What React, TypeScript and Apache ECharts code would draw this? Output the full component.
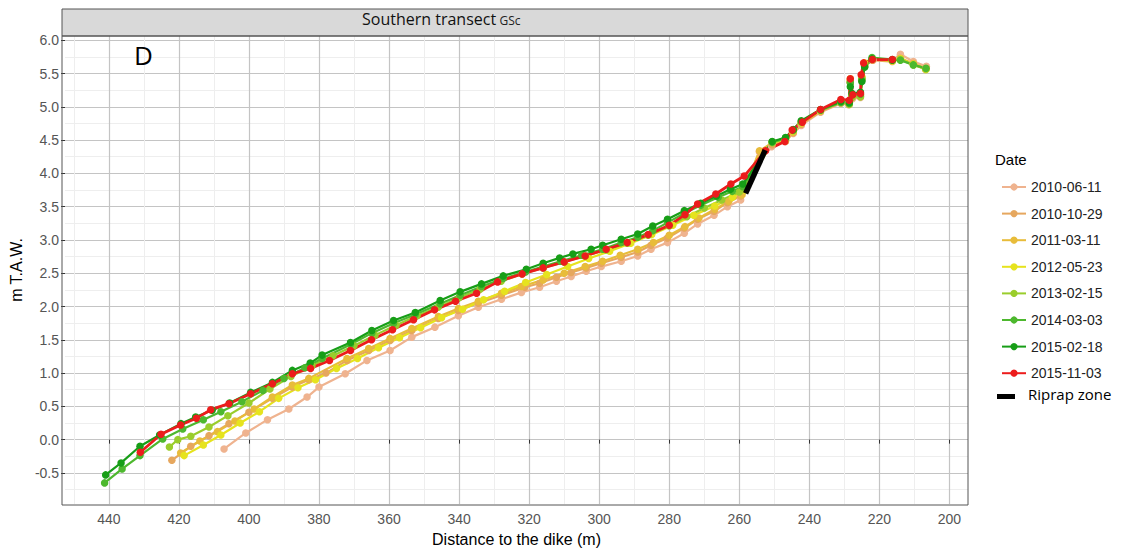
import React, { useEffect, useRef } from "react";
import * as echarts from "echarts";

// Survey dates and their colours
const dates = [
  "2010-06-11",
  "2010-10-29",
  "2011-03-11",
  "2012-05-23",
  "2013-02-15",
  "2014-03-03",
  "2015-02-18",
  "2015-11-03",
];
const colors = [
  "#EFB38F",
  "#E6A75E",
  "#E8BC3A",
  "#E6E31E",
  "#9ACD2C",
  "#4DB82E",
  "#179E17",
  "#EC1C1C",
];

// Axis ticks
const xTicks = [440, 420, 400, 380, 360, 340, 320, 300, 280, 260, 240, 220, 200];
const yTicks = [-0.5, 0, 0.5, 1, 1.5, 2, 2.5, 3, 3.5, 4, 4.5, 5, 5.5, 6];

// Profiles: [distance to the dike (m), elevation (m T.A.W.)]
const p20100611 = [
  [407.1, -0.14], [400.9, 0.1], [394.7, 0.3], [388.6, 0.46], [383.4, 0.64], [380.0, 0.79],
  [372.5, 0.99], [366.3, 1.19], [359.7, 1.34], [353.5, 1.54], [346.9, 1.69], [340.2, 1.86],
  [334.5, 1.99], [327.9, 2.11], [322.2, 2.21], [317.0, 2.29], [312.2, 2.38], [308.0, 2.45],
  [303.7, 2.53], [299.4, 2.6], [293.7, 2.68], [289.0, 2.76], [285.2, 2.86], [280.5, 2.96],
  [275.7, 3.1], [271.9, 3.24], [267.2, 3.37], [263.4, 3.5], [259.6, 3.6], [254.3, 4.33],
  [250.8, 4.4], [246.8, 4.5], [244.6, 4.6], [242.3, 4.72], [236.8, 4.92], [231.0, 5.05],
  [228.8, 5.05], [228.4, 5.38], [227.7, 5.12], [225.4, 5.14], [225.1, 5.4], [224.3, 5.62],
  [221.8, 5.7], [216.3, 5.7], [214.0, 5.79], [210.3, 5.68], [206.6, 5.61],
];
const p20101029 = [
  [422.0, -0.31], [416.6, -0.1], [411.4, 0.06], [405.7, 0.24], [400.0, 0.41], [393.3, 0.62],
  [387.6, 0.79], [382.9, 0.9], [378.0, 1.0], [372.0, 1.19], [365.8, 1.34], [359.7, 1.49],
  [353.5, 1.64], [345.9, 1.82], [340.2, 1.94], [334.5, 2.05], [327.9, 2.17], [321.2, 2.29],
  [317.0, 2.35], [312.2, 2.44], [308.0, 2.51], [303.7, 2.58], [299.4, 2.65], [293.7, 2.74],
  [289.0, 2.82], [285.2, 2.92], [280.5, 3.03], [275.7, 3.18], [271.9, 3.31], [267.2, 3.43],
  [263.4, 3.56], [259.6, 3.66], [254.0, 4.32], [250.6, 4.43], [246.8, 4.48], [244.6, 4.61],
  [242.3, 4.74], [236.8, 4.93], [231.0, 5.06], [228.7, 5.03], [228.3, 5.36], [227.8, 5.14],
  [225.4, 5.16], [225.0, 5.42], [224.2, 5.63], [222.0, 5.7], [216.3, 5.68], [214.0, 5.72],
  [210.3, 5.64], [206.8, 5.56],
];
const p20110311 = [
  [419.5, -0.2], [414.0, -0.02], [409.0, 0.12], [404.0, 0.28], [398.5, 0.46], [393.3, 0.64],
  [387.6, 0.82], [382.9, 0.92], [372.0, 1.22], [365.8, 1.37], [359.7, 1.52], [353.5, 1.67],
  [345.9, 1.85], [340.2, 1.97], [334.5, 2.08], [327.9, 2.2], [322.2, 2.3], [316.0, 2.4],
  [310.0, 2.5], [304.0, 2.6], [299.0, 2.68], [294.0, 2.77], [289.0, 2.86], [284.5, 2.96],
  [280.0, 3.07], [275.5, 3.2], [271.5, 3.33], [267.0, 3.46], [263.0, 3.58], [259.2, 3.68],
  [254.2, 4.34], [250.6, 4.46], [246.8, 4.5], [244.7, 4.62], [242.3, 4.75], [236.8, 4.94],
  [231.0, 5.07], [228.6, 5.04], [228.3, 5.4], [227.8, 5.16], [225.4, 5.17], [225.0, 5.44],
  [224.2, 5.64], [222.0, 5.71], [216.3, 5.7], [214.0, 5.73], [210.3, 5.65], [206.7, 5.58],
];
const p20120523 = [
  [418.5, -0.24], [413.0, -0.08], [408.0, 0.07], [402.5, 0.25], [397.0, 0.42], [391.5, 0.62],
  [386.0, 0.78], [381.0, 0.9], [375.0, 1.07], [369.0, 1.22], [363.0, 1.38], [357.0, 1.53],
  [351.0, 1.68], [345.0, 1.83], [339.0, 1.96], [333.0, 2.1], [327.0, 2.23], [321.0, 2.36],
  [315.0, 2.48], [309.0, 2.6], [303.0, 2.72], [297.0, 2.83], [291.0, 2.95], [285.0, 3.08],
  [279.0, 3.22], [273.0, 3.37], [267.0, 3.51], [262.0, 3.64], [258.5, 3.75], [250.6, 4.47],
  [246.8, 4.5], [244.7, 4.63], [242.3, 4.76], [236.8, 4.94], [231.0, 5.08], [228.6, 5.05],
  [228.3, 5.42], [227.8, 5.17], [225.4, 5.18], [225.0, 5.45], [224.2, 5.66], [222.0, 5.72],
  [216.3, 5.69], [214.0, 5.72], [210.3, 5.64], [206.7, 5.56],
];
const p20130215 = [
  [422.7, -0.11], [420.3, 0.0], [416.6, 0.05], [411.4, 0.19], [406.0, 0.36], [400.0, 0.55],
  [394.0, 0.76], [388.0, 0.95], [382.0, 1.11], [376.0, 1.26], [370.0, 1.41], [364.0, 1.57],
  [358.0, 1.72], [352.0, 1.86], [346.0, 1.99], [340.0, 2.13], [334.0, 2.26], [328.0, 2.38],
  [322.0, 2.49], [316.0, 2.58], [310.0, 2.67], [304.0, 2.76], [298.0, 2.85], [292.0, 2.95],
  [286.0, 3.07], [280.0, 3.21], [275.0, 3.35], [270.0, 3.48], [265.0, 3.6], [260.0, 3.72],
  [258.5, 3.78], [250.6, 4.46], [246.8, 4.52], [244.6, 4.64], [242.3, 4.77], [236.8, 4.95],
  [231.0, 5.06], [228.6, 5.04], [228.3, 5.37], [227.8, 5.14], [225.4, 5.15], [225.0, 5.42],
  [224.2, 5.62], [222.0, 5.72], [216.3, 5.7], [214.0, 5.71], [210.3, 5.63], [206.7, 5.57],
];
const p20140303 = [
  [441.2, -0.65], [436.2, -0.44], [431.1, -0.24], [424.6, 0.01], [418.9, 0.16], [413.0, 0.3],
  [408.0, 0.42], [402.0, 0.57], [396.0, 0.74], [390.0, 0.92], [384.0, 1.08], [379.1, 1.22],
  [371.0, 1.43], [364.9, 1.6], [358.7, 1.75], [352.5, 1.88], [345.4, 2.04], [339.7, 2.17],
  [333.6, 2.3], [327.4, 2.42], [321.0, 2.52], [316.0, 2.6], [311.0, 2.68], [305.0, 2.77],
  [299.0, 2.86], [293.7, 2.96], [289.0, 3.04], [284.7, 3.14], [280.5, 3.26], [275.7, 3.4],
  [271.0, 3.52], [266.0, 3.64], [262.0, 3.73], [259.0, 3.8], [250.6, 4.47], [246.8, 4.53],
  [244.6, 4.65], [242.3, 4.78], [236.8, 4.95], [231.0, 5.07], [228.6, 5.05], [228.3, 5.36],
  [227.8, 5.18], [225.4, 5.19], [225.0, 5.4], [224.2, 5.6], [222.1, 5.74], [216.3, 5.71],
  [214.0, 5.7], [210.3, 5.63], [206.7, 5.58],
];
const p20150218 = [
  [440.9, -0.53], [436.5, -0.35], [431.1, -0.1], [425.5, 0.07], [419.4, 0.24], [415.2, 0.34],
  [410.5, 0.44], [405.5, 0.55], [399.5, 0.71], [393.3, 0.86], [387.6, 1.04], [382.5, 1.15],
  [379.1, 1.27], [371.0, 1.46], [364.9, 1.64], [358.7, 1.79], [352.5, 1.91], [345.4, 2.09],
  [339.7, 2.22], [333.6, 2.34], [327.4, 2.46], [320.8, 2.56], [316.0, 2.65], [311.3, 2.73],
  [307.5, 2.79], [302.3, 2.86], [299.0, 2.92], [293.7, 3.01], [289.0, 3.09], [284.7, 3.21],
  [280.5, 3.31], [275.7, 3.44], [271.0, 3.55], [266.5, 3.66], [262.5, 3.76], [259.0, 3.84],
  [250.6, 4.48], [246.8, 4.54], [244.6, 4.66], [242.3, 4.79], [236.8, 4.96], [231.0, 5.08],
  [228.6, 5.06], [228.3, 5.3], [227.8, 5.2], [225.4, 5.22], [225.0, 5.38], [224.2, 5.6],
  [222.1, 5.72], [216.3, 5.7],
];
const p20151103 = [
  [431.0, -0.19], [425.1, 0.08], [419.5, 0.22], [415.0, 0.32], [410.9, 0.45], [405.7, 0.54],
  [399.5, 0.69], [393.3, 0.84], [387.6, 0.99], [382.4, 1.07], [377.0, 1.19], [371.0, 1.34],
  [365.0, 1.5], [359.0, 1.65], [353.0, 1.8], [347.0, 1.95], [341.0, 2.08], [335.0, 2.2],
  [329.0, 2.37], [322.0, 2.49], [316.0, 2.58], [310.0, 2.67], [304.0, 2.76], [298.0, 2.86],
  [292.0, 2.96], [286.0, 3.08], [280.0, 3.22], [275.5, 3.38], [271.9, 3.54], [266.7, 3.69],
  [262.4, 3.84], [258.6, 3.96], [252.5, 4.34], [247.0, 4.48], [244.9, 4.65], [242.0, 4.77],
  [236.8, 4.96], [231.0, 5.11], [228.6, 5.1], [228.3, 5.42], [227.6, 5.18], [225.4, 5.2],
  [225.2, 5.48], [224.5, 5.66], [222.0, 5.71], [216.3, 5.71],
];
const profiles = [
  p20100611, p20101029, p20110311, p20120523,
  p20130215, p20140303, p20150218, p20151103,
];

// Riprap stretch of the profile
const riprapZone = [
  [258.2, 3.7],
  [252.6, 4.35],
];

// Axis extents
const xMin = 194.7;
const xMax = 452.5;
const yMin = -0.967;
const yMax = 6.064;

// Layout of the panel (pixels)
const PANEL = { left: 62, top: 36, width: 906, height: 469 };
const STRIP_TOP = 9;

const tickFont = "'Liberation Sans', Arial, sans-serif";
const titleFont = "'Open Sans', Lato, sans-serif";

export default function App() {
  const ref = useRef<HTMLDivElement>(null);

  useEffect(() => {
    if (!ref.current) return;
    const chart = echarts.init(ref.current, null, { renderer: "svg" });

    const lineSeries = dates.map((name, i) => ({
      type: "line",
      name,
      data: profiles[i],
      color: colors[i],
      symbol: "circle",
      symbolSize: 7.5,
      showSymbol: true,
      lineStyle: { width: i === 7 ? 2.8 : 2.2, color: colors[i] },
      itemStyle: { color: colors[i] },
      emphasis: { disabled: true },
      clip: true,
    }));

    const option = {
      animation: false,
      backgroundColor: "#ffffff",
      textStyle: { fontFamily: tickFont },
      grid: {
        left: PANEL.left,
        top: PANEL.top,
        width: PANEL.width,
        height: PANEL.height,
        containLabel: false,
      },
      xAxis: {
        type: "value",
        inverse: true,
        min: xMin,
        max: xMax,
        splitNumber: 13,
        minInterval: 20,
        maxInterval: 20,
        name: "Distance to the dike (m)",
        nameLocation: "middle",
        nameGap: 27,
        nameTextStyle: { fontSize: 16, color: "#000", fontFamily: tickFont },
        axisLine: { show: false },
        axisTick: {
          show: true,
          length: 4,
          customValues: xTicks,
          lineStyle: { color: "#333", width: 1 },
        },
        axisLabel: {
          customValues: xTicks,
          showMinLabel: true,
          showMaxLabel: true,
          margin: 8,
          fontSize: 14,
          color: "#555",
          fontFamily: tickFont,
          formatter: (v: number) => String(Math.round(v)),
        },
        splitLine: { show: true, lineStyle: { color: "#c4c4c4", width: 1.2 } },
        minorTick: { show: false, splitNumber: 2 },
        minorSplitLine: { show: true, lineStyle: { color: "#eeeeee", width: 1 } },
      },
      yAxis: {
        type: "value",
        min: yMin,
        max: yMax,
        splitNumber: 14,
        minInterval: 0.5,
        maxInterval: 0.5,
        name: "m T.A.W.",
        nameLocation: "middle",
        nameGap: 31,
        nameTextStyle: { fontSize: 16, color: "#000", fontFamily: tickFont },
        axisLine: { show: false },
        axisTick: {
          show: true,
          length: 4,
          customValues: yTicks,
          lineStyle: { color: "#333", width: 1 },
        },
        axisLabel: {
          customValues: yTicks,
          showMinLabel: true,
          showMaxLabel: true,
          margin: 6,
          fontSize: 14,
          color: "#555",
          fontFamily: tickFont,
          formatter: (v: number) => v.toFixed(1),
        },
        splitLine: { show: true, lineStyle: { color: "#c4c4c4", width: 1.2 } },
        minorTick: { show: false, splitNumber: 2 },
        minorSplitLine: { show: true, lineStyle: { color: "#eeeeee", width: 1 } },
      },
      legend: {
        data: dates,
        orient: "vertical",
        left: 996,
        top: 175,
        itemWidth: 24,
        itemHeight: 9,
        itemGap: 12.6,
        selectedMode: false,
        textStyle: {
          fontSize: 14,
          lineHeight: 14,
          color: "#222",
          fontFamily: tickFont,
        },
      },
      series: [
        ...lineSeries,
        {
          type: "line",
          name: "Riprap zone",
          data: riprapZone,
          symbol: "none",
          lineStyle: { width: 5.5, color: "#000" },
          color: "#000",
          z: 5,
          emphasis: { disabled: true },
        },
      ],
      graphic: [
        // facet strip
        {
          type: "rect",
          z: 20,
          shape: {
            x: PANEL.left,
            y: STRIP_TOP,
            width: PANEL.width,
            height: PANEL.top - STRIP_TOP,
          },
          style: { fill: "#d9d9d9", stroke: "#555", lineWidth: 1 },
        },
        {
          type: "text",
          z: 21,
          left: 362,
          top: 11,
          style: {
            text: "{a|Southern transect} {b|GSc}",
            rich: {
              a: { fontSize: 16, fontFamily: titleFont, fill: "#111" },
              b: { fontSize: 12, fontFamily: titleFont, fill: "#222", padding: [3, 0, 0, 0] },
            },
          },
        },
        // panel frame
        {
          type: "rect",
          z: 20,
          shape: {
            x: PANEL.left,
            y: PANEL.top,
            width: PANEL.width,
            height: PANEL.height,
          },
          style: { fill: "none", stroke: "#555", lineWidth: 1 },
        },
        // panel tag
        {
          type: "text",
          z: 21,
          left: 134,
          top: 42,
          style: { text: "D", fontSize: 26, fontFamily: titleFont, fill: "#000" },
        },
        // legend title
        {
          type: "text",
          z: 21,
          left: 995,
          top: 152,
          style: { text: "Date", fontSize: 15, fontFamily: tickFont, fill: "#000" },
        },
        // riprap legend entry
        {
          type: "rect",
          z: 21,
          shape: { x: 997, y: 394, width: 18, height: 5 },
          style: { fill: "#000" },
        },
        {
          type: "text",
          z: 21,
          left: 1028,
          top: 386,
          style: { text: "Riprap zone", fontSize: 15, fontFamily: titleFont, fill: "#000" },
        },
      ],
    };

    chart.setOption(option as any);
    return () => chart.dispose();
  }, []);

  return (
    <div
      ref={ref}
      style={{
        position: "absolute",
        left: 0,
        top: 0,
        width: 1123,
        height: 552,
        background: "#fff",
      }}
    />
  );
}
